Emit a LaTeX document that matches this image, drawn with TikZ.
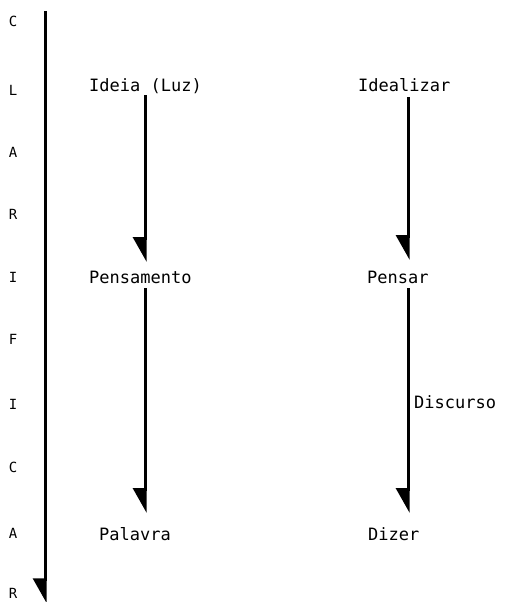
\documentclass[tikz,border=0pt]{standalone}
\usepackage{fontspec}
\setmonofont{DejaVu Sans Mono}
\usetikzlibrary{arrows.meta}
\tikzset{
  word/.style={font=\ttfamily\fontsize{17}{19}\selectfont, inner sep=0pt,
    text height=12pt, text depth=3pt, anchor=base west},
  letter/.style={font=\ttfamily\fontsize{14}{16}\selectfont, inner sep=0pt, anchor=base},
  conn/.style={line width=3pt, -{Triangle[harpoon, swap, length=22pt, width=24pt]}},
}
\begin{document}
\begin{tikzpicture}[x=1pt,y=-1pt]
\useasboundingbox (0,0) rectangle (504,602);
% vertical word spelled down the left side
\foreach \ch/\yy [count=\i] in {C/27,L/95,A/157,R/219,I/282,F/344,I/409,C/472,A/538,R/598}
  \node[letter] (l\i) at (13,\yy) {\ch};
% long arrow beside the letters
\coordinate (ltop) at (45,11);
\coordinate (lbot) at (45,603);
\draw[conn] (ltop) -- (lbot);
% column positions of the connectors
\coordinate (mc) at (145,0);
\coordinate (rc) at (408,0);
% middle column
\node[word] (ideia) at (89,92) {Ideia (Luz)};
\node[word] (pensamento) at (89,283) {Pensamento};
\node[word] (palavra) at (99,540) {Palavra};
% right column
\node[word] (idealizar) at (358,91) {Idealizar};
\node[word] (pensar) at (367,283) {Pensar};
\node[word] (dizer) at (368,540) {Dizer};
\node[word] (discurso) at (414,408) {Discurso};
% connectors
\draw[conn, shorten >=9pt] (ideia.south -| mc) -- (pensamento.north -| mc);
\draw[conn, shorten <=2pt, shorten >=15pt] (pensamento.south -| mc) -- (palavra.north -| mc);
\draw[conn, shorten <=3pt, shorten >=11pt] (idealizar.south -| rc) -- (pensar.north -| rc);
\draw[conn, shorten <=2pt, shorten >=15pt] (pensar.south -| rc) -- (dizer.north -| rc);
\end{tikzpicture}
\end{document}
